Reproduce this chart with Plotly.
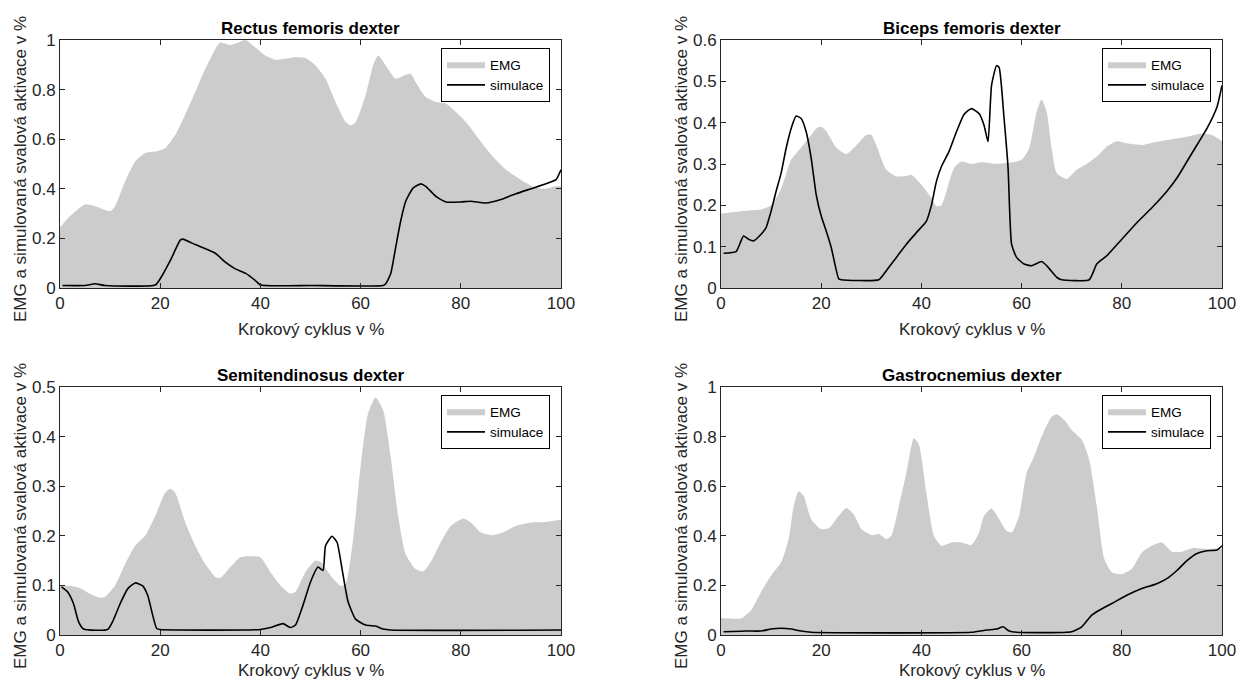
import plotly.graph_objects as go

W, H = 1253, 684

# ---------------- data ----------------
# Rectus femoris dexter
rf_emg_x = [0, 2, 5, 7, 10, 11, 13, 15, 17, 19, 21, 23, 25, 27, 29, 31, 32, 34, 36, 37, 39, 41, 43, 45, 47, 49,
            51, 53, 55, 57, 58, 59, 61, 62.5, 63.5, 65, 67, 69, 70, 71, 73, 75, 77, 79, 81, 83, 85, 87, 89, 91,
            93, 95, 97, 99, 100]
rf_emg_y = [0.244, 0.29, 0.337, 0.33, 0.31, 0.33, 0.43, 0.51, 0.544, 0.55, 0.564, 0.617, 0.70, 0.79, 0.884,
            0.964, 0.99, 0.98, 0.993, 1.0, 0.97, 0.937, 0.92, 0.924, 0.93, 0.927, 0.897, 0.844, 0.75, 0.67,
            0.655, 0.668, 0.777, 0.897, 0.937, 0.897, 0.844, 0.86, 0.864, 0.83, 0.77, 0.75, 0.744, 0.71, 0.67,
            0.617, 0.564, 0.517, 0.477, 0.45, 0.424, 0.404, 0.40, 0.41, 0.41]
rf_sim_x = [0.5, 5, 7, 9, 19, 20, 22, 24, 24.5, 27, 31, 33, 35, 37, 39, 40, 50, 64.5, 65, 66, 67, 68, 69, 70.5,
            72, 73, 75, 77, 80, 82, 85, 88, 91, 94, 97, 99, 100]
rf_sim_y = [0.01, 0.01, 0.017, 0.01, 0.012, 0.037, 0.11, 0.193, 0.197, 0.175, 0.14, 0.104, 0.077, 0.06, 0.03,
            0.012, 0.01, 0.01, 0.017, 0.057, 0.164, 0.27, 0.35, 0.404, 0.42, 0.41, 0.37, 0.347, 0.347, 0.35,
            0.343, 0.357, 0.38, 0.40, 0.42, 0.437, 0.477]

# Biceps femoris dexter
bf_emg_x = [0, 5, 8, 10, 12, 14, 16, 18, 19, 20, 21, 23, 25, 27, 29, 30, 31, 33, 35, 37, 38, 40, 42, 43, 44,
            45, 46.5, 48, 50, 52, 55, 58, 60, 61.5, 63, 64, 65, 66, 67, 69, 71, 73, 75, 77, 79, 81, 84, 87, 90,
            93, 96, 98, 100]
bf_emg_y = [0.18, 0.187, 0.19, 0.20, 0.24, 0.31, 0.34, 0.37, 0.386, 0.39, 0.38, 0.34, 0.324, 0.345, 0.37,
            0.371, 0.346, 0.286, 0.27, 0.271, 0.274, 0.25, 0.218, 0.198, 0.20, 0.234, 0.29, 0.306, 0.30,
            0.304, 0.30, 0.304, 0.31, 0.338, 0.426, 0.456, 0.426, 0.338, 0.278, 0.264, 0.286, 0.30, 0.318,
            0.342, 0.355, 0.35, 0.346, 0.354, 0.36, 0.366, 0.374, 0.37, 0.355]
bf_sim_x = [0.5, 3, 4, 4.5, 5.5, 6.5, 8, 9, 10, 11, 12, 13, 14, 15, 16, 17, 18, 19, 20, 21, 22, 23.5, 24, 31.5,
            33, 35, 37, 39, 41, 42, 43, 44, 45.5, 47, 48.5, 50, 51.5, 52.5, 53.3, 54, 55, 55.5, 56.5, 57.3, 58,
            59, 60.5, 62, 64, 65, 67, 68, 73.5, 75, 77, 80, 83, 86, 89, 91, 93, 95, 97, 99, 100]
bf_sim_y = [0.084, 0.088, 0.114, 0.126, 0.118, 0.114, 0.13, 0.146, 0.186, 0.234, 0.278, 0.338, 0.386, 0.416,
            0.41, 0.378, 0.314, 0.226, 0.174, 0.138, 0.098, 0.022, 0.02, 0.02, 0.042, 0.074, 0.106, 0.134,
            0.162, 0.20, 0.258, 0.294, 0.33, 0.378, 0.42, 0.434, 0.422, 0.394, 0.354, 0.49, 0.538, 0.534,
            0.41, 0.29, 0.106, 0.074, 0.058, 0.054, 0.064, 0.054, 0.026, 0.02, 0.02, 0.058, 0.078, 0.118,
            0.158, 0.194, 0.234, 0.266, 0.306, 0.346, 0.386, 0.438, 0.49]

# Semitendinosus dexter
st_emg_x = [0, 2, 4, 6, 8, 9, 11, 13, 15, 17, 19, 21, 22, 23, 25, 27, 29, 31, 32, 34, 36, 38, 40, 42, 44, 46,
            47, 49, 51, 52, 54, 56, 57, 58.5, 60, 61.5, 63, 64.5, 66, 67.5, 69, 71, 72.5, 74, 76, 78, 80.5, 82,
            84, 86, 88, 91, 94, 97, 100]
st_emg_y = [0.099, 0.099, 0.095, 0.083, 0.075, 0.077, 0.10, 0.143, 0.18, 0.20, 0.24, 0.287, 0.295, 0.287,
            0.227, 0.18, 0.143, 0.117, 0.115, 0.137, 0.157, 0.159, 0.157, 0.127, 0.10, 0.083, 0.087, 0.127,
            0.15, 0.147, 0.12, 0.099, 0.103, 0.193, 0.34, 0.447, 0.479, 0.453, 0.36, 0.24, 0.163, 0.133,
            0.128, 0.147, 0.187, 0.22, 0.235, 0.227, 0.207, 0.201, 0.205, 0.22, 0.227, 0.228, 0.233]
st_sim_x = [0.3, 1.5, 2.7, 3.7, 4.7, 9.5, 10.5, 12, 13.5, 15, 16.5, 17.5, 18.5, 19.3, 20, 40, 42, 44.5, 46, 47,
            48.5, 50, 51.5, 52.5, 53, 54.3, 55.3, 56.3, 57.5, 59, 61, 63, 64.5, 66, 100]
st_sim_y = [0.097, 0.087, 0.063, 0.027, 0.012, 0.011, 0.027, 0.063, 0.093, 0.105, 0.099, 0.08, 0.04, 0.013,
            0.011, 0.011, 0.015, 0.023, 0.015, 0.02, 0.06, 0.107, 0.137, 0.13, 0.18, 0.199, 0.187, 0.133,
            0.067, 0.032, 0.02, 0.018, 0.012, 0.01, 0.01]

# Gastrocnemius dexter
gc_emg_x = [0, 2, 4, 6, 8, 10, 12, 13.5, 14.5, 15.5, 16.5, 18, 20, 21.5, 23, 25, 26.5, 28, 30, 31.5, 33, 34,
            35.5, 37, 38.5, 39.5, 41, 42.5, 44, 46, 48, 50, 51.5, 52.5, 54, 55.5, 57, 58, 59.5, 61, 62.5, 64,
            66, 67, 68.5, 70, 72, 73.5, 75, 76.5, 78, 80, 82, 84, 86, 88, 90, 92, 94, 97, 100]
gc_emg_y = [0.069, 0.067, 0.067, 0.10, 0.173, 0.24, 0.293, 0.387, 0.52, 0.58, 0.56, 0.467, 0.427, 0.43, 0.467,
            0.512, 0.487, 0.427, 0.403, 0.407, 0.387, 0.40, 0.52, 0.653, 0.793, 0.767, 0.573, 0.40, 0.36,
            0.373, 0.373, 0.363, 0.413, 0.48, 0.51, 0.467, 0.42, 0.413, 0.48, 0.653, 0.72, 0.80, 0.88, 0.89,
            0.867, 0.827, 0.787, 0.707, 0.52, 0.307, 0.253, 0.245, 0.267, 0.333, 0.36, 0.373, 0.336, 0.336,
            0.35, 0.347, 0.35]
gc_sim_x = [0.5, 5, 8, 10, 12, 14, 16, 18, 50, 53, 55, 56.3, 57.5, 59, 70, 72, 74, 75.5, 78, 81, 84, 87, 89,
            91, 93, 95, 97, 99, 100]
gc_sim_y = [0.013, 0.016, 0.016, 0.024, 0.027, 0.024, 0.016, 0.011, 0.011, 0.02, 0.024, 0.033, 0.016, 0.011,
            0.013, 0.033, 0.08, 0.10, 0.127, 0.16, 0.187, 0.207, 0.227, 0.26, 0.30, 0.329, 0.34, 0.343, 0.36]

titles = ["Rectus femoris dexter", "Biceps femoris dexter", "Semitendinosus dexter", "Gastrocnemius dexter"]
y_ranges = [1.0, 0.6, 0.5, 1.0]
y_dticks = [0.2, 0.1, 0.1, 0.2]
x_ticks = [0, 20, 40, 60, 80, 100]
legend_names = ["EMG", "simulace"]
x_label = "Krokový cyklus v %"
y_label = "EMG a simulovaná svalová aktivace v %"

panels = [
    (rf_emg_x, rf_emg_y, rf_sim_x, rf_sim_y),
    (bf_emg_x, bf_emg_y, bf_sim_x, bf_sim_y),
    (st_emg_x, st_emg_y, st_sim_x, st_sim_y),
    (gc_emg_x, gc_emg_y, gc_sim_x, gc_sim_y),
]

# ---------------- layout geometry (page pixels) ----------------
boxes = [(60, 561, 40, 288), (721, 1222, 40, 288), (60, 561, 387, 635), (721, 1222, 387, 635)]

def px_x(p):
    return p / W

def px_y(p):
    return 1 - p / H

FONT = "Liberation Sans, Arial, Helvetica, sans-serif"
AX_COL = "#262626"
EMG_COL = "#cccccc"
FS = 17

fig = go.Figure()
layout = dict(
    width=W, height=H, margin=dict(l=0, r=0, t=0, b=0, pad=0, autoexpand=False),
    paper_bgcolor="white", plot_bgcolor="white",
    font=dict(family=FONT, size=FS, color=AX_COL),
    showlegend=True,
)
annotations = []

for i, (ex, ey, sx, sy) in enumerate(panels):
    n = i + 1
    xa = "x" if n == 1 else f"x{n}"
    ya = "y" if n == 1 else f"y{n}"
    lg = "legend" if n == 1 else f"legend{n}"
    x0, x1, y0, y1 = boxes[i]

    fig.add_trace(go.Scatter(
        x=ex, y=ey, mode="lines", fill="tozeroy", fillcolor=EMG_COL,
        line=dict(color=EMG_COL, width=0, shape="spline", smoothing=0.6),
        name=legend_names[0], xaxis=xa, yaxis=ya, legend=lg, hoverinfo="skip"))
    fig.add_trace(go.Scatter(
        x=sx, y=sy, mode="lines",
        line=dict(color="black", width=1.6, shape="spline", smoothing=0.5),
        name=legend_names[1], xaxis=xa, yaxis=ya, legend=lg, hoverinfo="skip"))

    axis_common = dict(
        showline=True, linecolor=AX_COL, linewidth=1, mirror="ticks",
        ticks="inside", ticklen=5, tickwidth=1, tickcolor=AX_COL,
        showgrid=False, zeroline=False, automargin=False,
        tickfont=dict(family=FONT, size=FS, color=AX_COL),
    )
    layout["xaxis" if n == 1 else f"xaxis{n}"] = dict(
        axis_common, domain=[px_x(x0), px_x(x1)], anchor=ya,
        range=[0, 100], tickvals=x_ticks)
    layout["yaxis" if n == 1 else f"yaxis{n}"] = dict(
        axis_common, domain=[px_y(y1), px_y(y0)], anchor=xa,
        range=[0, y_ranges[i]], dtick=y_dticks[i], tick0=0)

    layout[lg] = dict(
        x=px_x(x1 - 11), y=px_y(y0 + 8), xanchor="right", yanchor="top",
        xref="paper", yref="paper",
        bgcolor="white", bordercolor="black", borderwidth=1,
        font=dict(family=FONT, size=13.5, color="black"),
        tracegroupgap=0, itemwidth=38, traceorder="normal")

    cx = (x0 + x1) / 2
    annotations.append(dict(
        text=f"<b>{titles[i]}</b>", x=px_x(cx), y=px_y(y0 - 12), xref="paper", yref="paper",
        showarrow=False, xanchor="center", yanchor="middle",
        font=dict(family=FONT, size=FS, color="black")))
    annotations.append(dict(
        text=x_label, x=px_x(cx), y=px_y(min(y1 + 41, 670)), xref="paper", yref="paper",
        showarrow=False, xanchor="center", yanchor="middle",
        font=dict(family=FONT, size=FS, color=AX_COL)))
    annotations.append(dict(
        text=y_label, x=px_x(x0 - 40), y=px_y((y0 + y1) / 2 + 5), xref="paper", yref="paper",
        showarrow=False, xanchor="center", yanchor="middle", textangle=-90,
        font=dict(family=FONT, size=FS, color=AX_COL)))

layout["annotations"] = annotations
fig.update_layout(**layout)
fig.write_html("out.html", config={"displayModeBar": False},
               post_script="document.body.style.margin='0';document.body.style.overflow='hidden';")
